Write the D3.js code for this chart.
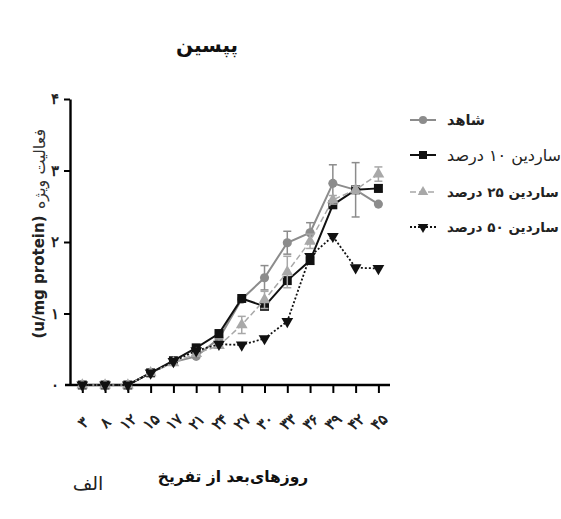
<!DOCTYPE html>
<html>
<head>
<meta charset="utf-8">
<script src="https://cdn.jsdelivr.net/npm/d3@7"></script>
<style>
    body { margin: 0; background: #fff; }
    svg { display: block; font-family: "DejaVu Sans", sans-serif; }
</style>
</head>
<body>
<svg id="chart" width="561" height="519"></svg>
<script>
// days after hatching
const days = ['۳', '۸', '۱۲', '۱۵', '۱۷', '۲۱', '۲۴', '۲۷', '۳۰', '۳۳', '۳۶', '۳۹', '۴۲', '۴۵'];
const yTicks = [0, 1, 2, 3, 4];
const yTickLabels = ['۰', '۱', '۲', '۳', '۴'];

const seriesNames = ['شاهد', 'ساردین ۱۰ درصد', 'ساردین ۲۵ درصد', 'ساردین ۵۰ درصد'];

const control = [0.0, 0.0, 0.0, 0.17, 0.32, 0.40, 0.65, 1.20, 1.50, 1.99, 2.13, 2.82, 2.73, 2.53];
const sardine10 = [0.0, 0.0, 0.0, 0.17, 0.34, 0.52, 0.72, 1.21, 1.10, 1.46, 1.74, 2.52, 2.73, 2.75];
const sardine25 = [0.0, 0.0, 0.0, 0.17, 0.31, 0.44, 0.55, 0.84, 1.19, 1.58, 2.01, 2.59, 2.73, 2.95];
const sardine50 = [0.0, 0.0, 0.0, 0.17, 0.33, 0.48, 0.57, 0.56, 0.65, 0.89, 1.80, 2.08, 1.64, 1.63];

const controlErr = [0, 0, 0, 0.02, 0.02, 0.03, 0.03, 0.03, 0.17, 0.16, 0.14, 0.26, 0.38, 0.03];
const sardine10Err = [0, 0, 0, 0.02, 0.02, 0.03, 0.03, 0.03, 0.03, 0.04, 0.05, 0.04, 0.03, 0.05];
const sardine25Err = [0, 0, 0, 0.02, 0.02, 0.03, 0.03, 0.12, 0.12, 0.22, 0.10, 0.06, 0.05, 0.10];
const sardine50Err = [0, 0, 0, 0, 0, 0, 0, 0, 0, 0, 0, 0, 0, 0];

const svg = d3.select('#chart');

const xScale = d3.scalePoint()
    .domain(days)
    .range([82.3, 378.4]);

const yScale = d3.scaleLinear()
    .domain([0, 4])
    .range([385, 99]);

const styles = [
    {values: control, err: controlErr, color: '#8c8c8c', dash: null, width: 2, marker: d3.symbolCircle, size: 65},
    {values: sardine10, err: sardine10Err, color: '#111111', dash: null, width: 2, marker: d3.symbolSquare, size: 80},
    {values: sardine25, err: sardine25Err, color: '#a8a8a8', dash: '6,3', width: 1.5, marker: d3.symbolTriangle, size: 60},
    {values: sardine50, err: sardine50Err, color: '#111111', dash: '2,2', width: 1.8, marker: d3.symbolTriangle, size: 60, flip: true}
];

// axes
const xAxis = svg.append('g')
    .attr('transform', 'translate(0,385)')
    .call(d3.axisBottom(xScale).tickSize(8).tickSizeOuter(0));
xAxis.select('.domain')
    .attr('d', 'M65,0H390')
    .attr('stroke-width', 2.4);
xAxis.selectAll('.tick line').attr('stroke-width', 2);
xAxis.selectAll('.tick text')
    .attr('font-size', 15)
    .attr('font-weight', 'bold')
    .attr('fill', '#222')
    .attr('text-anchor', 'middle')
    .attr('y', 0)
    .attr('dy', '0.35em')
    .attr('transform', 'translate(0,37) rotate(-45)');

const yAxis = svg.append('g')
    .attr('transform', 'translate(70,0)')
    .call(d3.axisLeft(yScale).tickValues(yTicks).tickSize(6).tickSizeOuter(0).tickPadding(5)
        .tickFormat(function(d, i) { return yTickLabels[i]; }));
yAxis.select('.domain').attr('stroke-width', 2.4);
yAxis.selectAll('.tick line').attr('stroke-width', 2);
yAxis.selectAll('.tick text')
    .attr('font-size', 15)
    .attr('font-weight', 'bold')
    .attr('fill', '#222');
yAxis.selectAll('.tick').filter(function(d) { return d === 0; }).select('line').remove();

// series
styles.forEach(function(s) {
    const pts = s.values.map(function(v, i) { return {day: days[i], v: v, e: s.err[i]}; });

    const line = d3.line()
        .x(function(d) { return xScale(d.day); })
        .y(function(d) { return yScale(d.v); });

    svg.append('path')
        .attr('d', line(pts))
        .attr('fill', 'none')
        .attr('stroke', s.color)
        .attr('stroke-width', s.width)
        .attr('stroke-dasharray', s.dash);

    const eb = svg.append('g')
        .attr('stroke', s.color)
        .attr('stroke-width', 1.5);
    pts.filter(function(d) { return d.e > 0.04; }).forEach(function(d) {
        const x = xScale(d.day);
        eb.append('line').attr('x1', x).attr('x2', x)
            .attr('y1', yScale(d.v + d.e)).attr('y2', yScale(d.v - d.e));
        eb.append('line').attr('x1', x - 4).attr('x2', x + 4)
            .attr('y1', yScale(d.v + d.e)).attr('y2', yScale(d.v + d.e));
        eb.append('line').attr('x1', x - 4).attr('x2', x + 4)
            .attr('y1', yScale(d.v - d.e)).attr('y2', yScale(d.v - d.e));
    });

    svg.append('g').selectAll('path')
        .data(pts)
        .enter()
        .append('path')
        .attr('d', d3.symbol().type(s.marker).size(s.size))
        .attr('transform', function(d) {
            return 'translate(' + xScale(d.day) + ',' + yScale(d.v) + ')' + (s.flip ? ' rotate(180)' : '');
        })
        .attr('fill', s.color);
});

// legend
const legendY = [120, 155, 192, 227];
const legendWeight = ['bold', 'normal', 'bold', 'bold'];
const legendSize = [14.5, 16, 13.5, 13.5];
styles.forEach(function(s, i) {
    const g = svg.append('g').attr('transform', 'translate(0,' + legendY[i] + ')');
    g.append('line')
        .attr('x1', 410).attr('x2', 436)
        .attr('stroke', s.color)
        .attr('stroke-width', s.width)
        .attr('stroke-dasharray', s.dash);
    g.append('path')
        .attr('d', d3.symbol().type(s.marker).size(s.size * 0.8))
        .attr('transform', 'translate(423,0)' + (s.flip ? ' rotate(180)' : ''))
        .attr('fill', s.color);
    g.append('text')
        .attr('x', 447)
        .attr('y', 0)
        .attr('dy', '0.35em')
        .attr('font-size', legendSize[i])
        .attr('font-weight', legendWeight[i])
        .attr('fill', '#222')
        .text(seriesNames[i]);
});

// titles
svg.append('text')
    .attr('x', 207)
    .attr('y', 52)
    .attr('text-anchor', 'middle')
    .attr('font-size', 20)
    .attr('font-weight', 'bold')
    .attr('fill', '#111')
    .text('پپسین');

svg.append('text')
    .attr('x', 233)
    .attr('y', 482)
    .attr('text-anchor', 'middle')
    .attr('font-size', 15.5)
    .attr('font-weight', 'bold')
    .attr('fill', '#111')
    .text('روزهای‌بعد از تفریخ');

svg.append('text')
    .attr('x', 88)
    .attr('y', 490)
    .attr('text-anchor', 'middle')
    .attr('font-size', 19)
    .attr('fill', '#222')
    .text('الف');

svg.append('text')
    .attr('transform', 'translate(44,277) rotate(-90)')
    .attr('text-anchor', 'middle')
    .attr('font-size', 15)
    .attr('font-weight', 'bold')
    .attr('fill', '#222')
    .text('(u/mg protein)');

svg.append('text')
    .attr('transform', 'translate(45,169) rotate(-90)')
    .attr('text-anchor', 'middle')
    .attr('font-size', 16)
    .attr('fill', '#333')
    .text('فعالیت ویژه');
</script>
</body>
</html>
